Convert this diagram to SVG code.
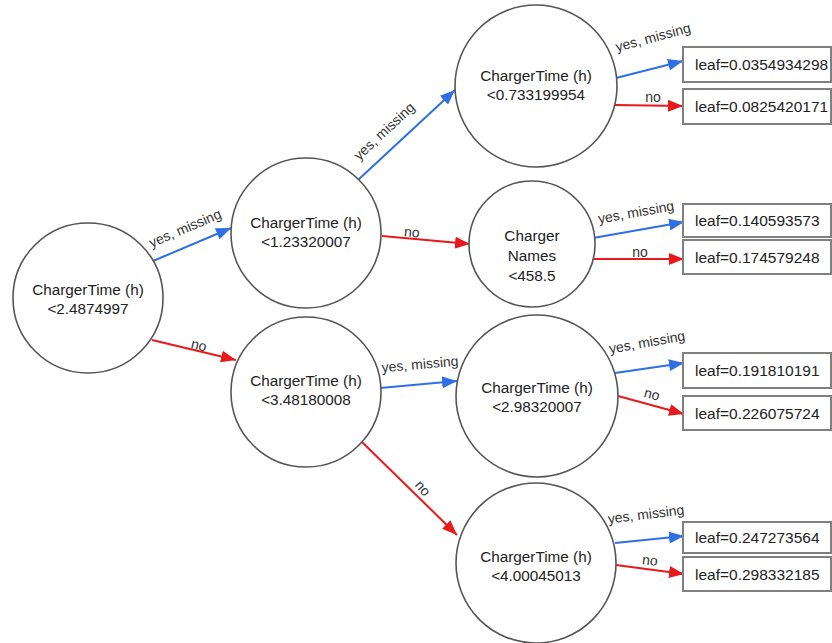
<svg xmlns="http://www.w3.org/2000/svg" width="832" height="643" viewBox="0 0 832 643">
<style>
.node{fill:#fff;stroke:#555;stroke-width:1.6}
.leaf{fill:#fff;stroke:#808080;stroke-width:2}
.nt{font-family:"Liberation Sans",Arial,sans-serif;font-size:15.3px;fill:#222;text-anchor:middle}
.lt{font-family:"Liberation Sans",Arial,sans-serif;font-size:15.5px;fill:#222}
.el{font-family:"Liberation Sans",Arial,sans-serif;font-size:14px;fill:#333;text-anchor:middle;dominant-baseline:central}
.yes{stroke:#2f6fe6;stroke-width:2;fill:none;marker-end:url(#ab)}
.no{stroke:#e8191a;stroke-width:2;fill:none;marker-end:url(#ar)}
</style>
<defs>
<marker id="ab" markerUnits="userSpaceOnUse" markerWidth="16" markerHeight="12" refX="15" refY="6" orient="auto"><path d="M0,0 L15,6 L0,12 z" fill="#2f6fe6"/></marker>
<marker id="ar" markerUnits="userSpaceOnUse" markerWidth="16" markerHeight="12" refX="15" refY="6" orient="auto"><path d="M0,0 L15,6 L0,12 z" fill="#e8191a"/></marker>
</defs>
<rect width="832" height="643" fill="#fff"/>
<g id="connectors">
<line class="yes" x1="153" y1="261" x2="231" y2="228"/>
<line class="no" x1="152" y1="340" x2="236" y2="360"/>
<line class="yes" x1="358" y1="180" x2="455" y2="90"/>
<line class="no" x1="382" y1="236" x2="470" y2="244"/>
<line class="yes" x1="616" y1="78" x2="683" y2="61"/>
<line class="no" x1="615" y1="105" x2="683" y2="106"/>
<line class="yes" x1="593" y1="238" x2="684" y2="222"/>
<line class="no" x1="593" y1="259" x2="684" y2="259"/>
<line class="yes" x1="380" y1="388" x2="457" y2="381"/>
<line class="no" x1="362" y1="442" x2="457" y2="535"/>
<line class="yes" x1="615" y1="373" x2="684" y2="363"/>
<line class="no" x1="618" y1="396" x2="684" y2="414"/>
<line class="yes" x1="615" y1="543" x2="684" y2="536"/>
<line class="no" x1="616" y1="565" x2="684" y2="574"/>
<text class="el" transform="translate(185,228) rotate(-23)">yes, missing</text>
<text class="el" transform="translate(199,345) rotate(14)">no</text>
<text class="el" transform="translate(384,131) rotate(-43)">yes, missing</text>
<text class="el" transform="translate(412,232) rotate(5)">no</text>
<text class="el" transform="translate(653,37) rotate(-15)">yes, missing</text>
<text class="el" transform="translate(653,97)">no</text>
<text class="el" transform="translate(636,212) rotate(-10)">yes, missing</text>
<text class="el" transform="translate(640,252)">no</text>
<text class="el" transform="translate(420,364) rotate(-5)">yes, missing</text>
<text class="el" transform="translate(423,488) rotate(50)">no</text>
<text class="el" transform="translate(647,342) rotate(-10)">yes, missing</text>
<text class="el" transform="translate(652,394) rotate(15)">no</text>
<text class="el" transform="translate(646,514) rotate(-7)">yes, missing</text>
<text class="el" transform="translate(650,560) rotate(6)">no</text>
</g>
<g id="n0"><circle class="node" cx="88" cy="298" r="75"/><text class="nt" x="88" y="295">ChargerTime (h)</text><text class="nt" x="88" y="314">&lt;2.4874997</text></g>
<g id="n1"><circle class="node" cx="306" cy="233" r="75"/><text class="nt" x="306" y="228">ChargerTime (h)</text><text class="nt" x="306" y="247">&lt;1.23320007</text></g>
<g id="n2"><circle class="node" cx="536" cy="86" r="81"/><text class="nt" x="536" y="81">ChargerTime (h)</text><text class="nt" x="536" y="100">&lt;0.733199954</text></g>
<g id="n3"><circle class="node" cx="532" cy="244" r="63"/><text class="nt" x="532" y="241">Charger</text><text class="nt" x="532" y="261">Names</text><text class="nt" x="532" y="281">&lt;458.5</text></g>
<g id="n4"><circle class="node" cx="306" cy="392" r="75"/><text class="nt" x="306" y="386">ChargerTime (h)</text><text class="nt" x="306" y="405">&lt;3.48180008</text></g>
<g id="n5"><circle class="node" cx="537" cy="396" r="81"/><text class="nt" x="537" y="393">ChargerTime (h)</text><text class="nt" x="537" y="412">&lt;2.98320007</text></g>
<g id="n6"><circle class="node" cx="536" cy="563" r="80"/><text class="nt" x="536" y="562">ChargerTime (h)</text><text class="nt" x="536" y="581">&lt;4.00045013</text></g>
<g id="l1"><rect class="leaf" x="683" y="47" width="148" height="35"/><text class="lt" x="695" y="70">leaf=0.0354934298</text></g>
<g id="l2"><rect class="leaf" x="683" y="89" width="148" height="35"/><text class="lt" x="695" y="112">leaf=0.0825420171</text></g>
<g id="l3"><rect class="leaf" x="683" y="204" width="148" height="33"/><text class="lt" x="695" y="226">leaf=0.140593573</text></g>
<g id="l4"><rect class="leaf" x="683" y="240" width="148" height="34"/><text class="lt" x="695" y="263">leaf=0.174579248</text></g>
<g id="l5"><rect class="leaf" x="683" y="353" width="148" height="35"/><text class="lt" x="695" y="376">leaf=0.191810191</text></g>
<g id="l6"><rect class="leaf" x="683" y="396" width="148" height="34"/><text class="lt" x="695" y="419">leaf=0.226075724</text></g>
<g id="l7"><rect class="leaf" x="683" y="522" width="148" height="31"/><text class="lt" x="695" y="543">leaf=0.247273564</text></g>
<g id="l8"><rect class="leaf" x="683" y="557" width="148" height="34"/><text class="lt" x="695" y="580">leaf=0.298332185</text></g>
</svg>
